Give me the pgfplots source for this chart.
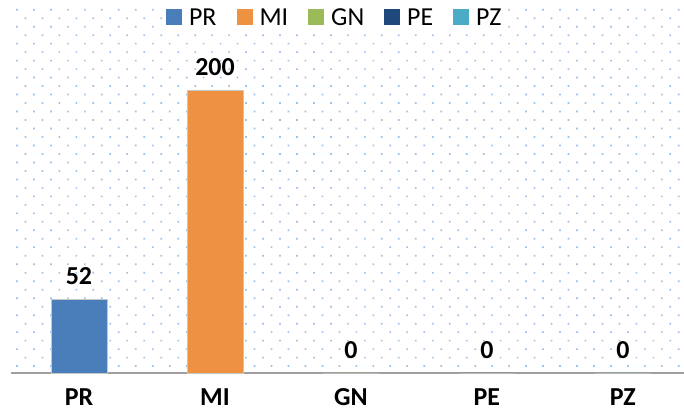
\documentclass[border=0pt]{standalone}
\usepackage{fontspec}
\setmainfont{Carlito}
\usepackage{pgfplots}
\pgfplotsset{compat=1.18}
\usetikzlibrary{patterns.meta}
\definecolor{cPR}{HTML}{4A7EBB}
\definecolor{cMI}{HTML}{EE9143}
\definecolor{cGN}{HTML}{9BBB59}
\definecolor{cPE}{HTML}{1F497D}
\definecolor{cPZ}{HTML}{4BACC6}
\definecolor{dotc}{HTML}{9DC3E6}
\begin{document}
\begin{tikzpicture}
\useasboundingbox (0,0) rectangle (684bp,417bp);
\begin{axis}[
  at={(11bp,44bp)}, anchor=south west,
  scale only axis, width=673bp, height=368bp,
  xmin=-0.5, xmax=4.45, ymin=0, ymax=260,
  axis x line*=bottom, axis y line=none,
  x axis line style={draw=gray!75, line width=1.5bp},
  xtick={0,1,2,3,4}, xticklabels={PR,MI,GN,PE,PZ},
  major tick length=0pt, ytick=\empty,
  /pgf/number format/assume math mode=true,
  xticklabel style={font=\fontsize{26}{26}\selectfont\bfseries, yshift=-12bp},
  ybar, bar width=56bp, bar shift=0pt,
  nodes near coords,
  nodes near coords style={font=\fontsize{26}{26}\selectfont\bfseries, text=black, anchor=south, inner sep=0pt, yshift=14bp},
  every axis plot/.append style={draw=gray!45, line width=0.6bp},
  clip=false,
  axis background/.style={pattern={Dots[radius=1.2bp, distance=12bp, angle=45]}, pattern color=dotc},
  legend columns=-1,
  legend style={at={(0.481,1)}, anchor=north, yshift=-1bp, draw=none, fill=white,
    font=\fontsize{26}{26}\selectfont, inner sep=1bp,
    /tikz/every even column/.append style={column sep=18bp},
    /tikz/every odd column/.append style={column sep=5bp}},
  legend image code/.code={\fill[#1, draw=none] (0bp,-7bp) rectangle (16bp,9bp);},
]
\addplot[fill=cPR] coordinates {(0,52)};
\addplot[fill=cMI] coordinates {(1,200)};
\addplot[fill=cGN] coordinates {(2,0)};
\addplot[fill=cPE] coordinates {(3,0)};
\addplot[fill=cPZ] coordinates {(4,0)};
\legend{PR,MI,GN,PE,PZ}
\end{axis}
\end{tikzpicture}
\end{document}
